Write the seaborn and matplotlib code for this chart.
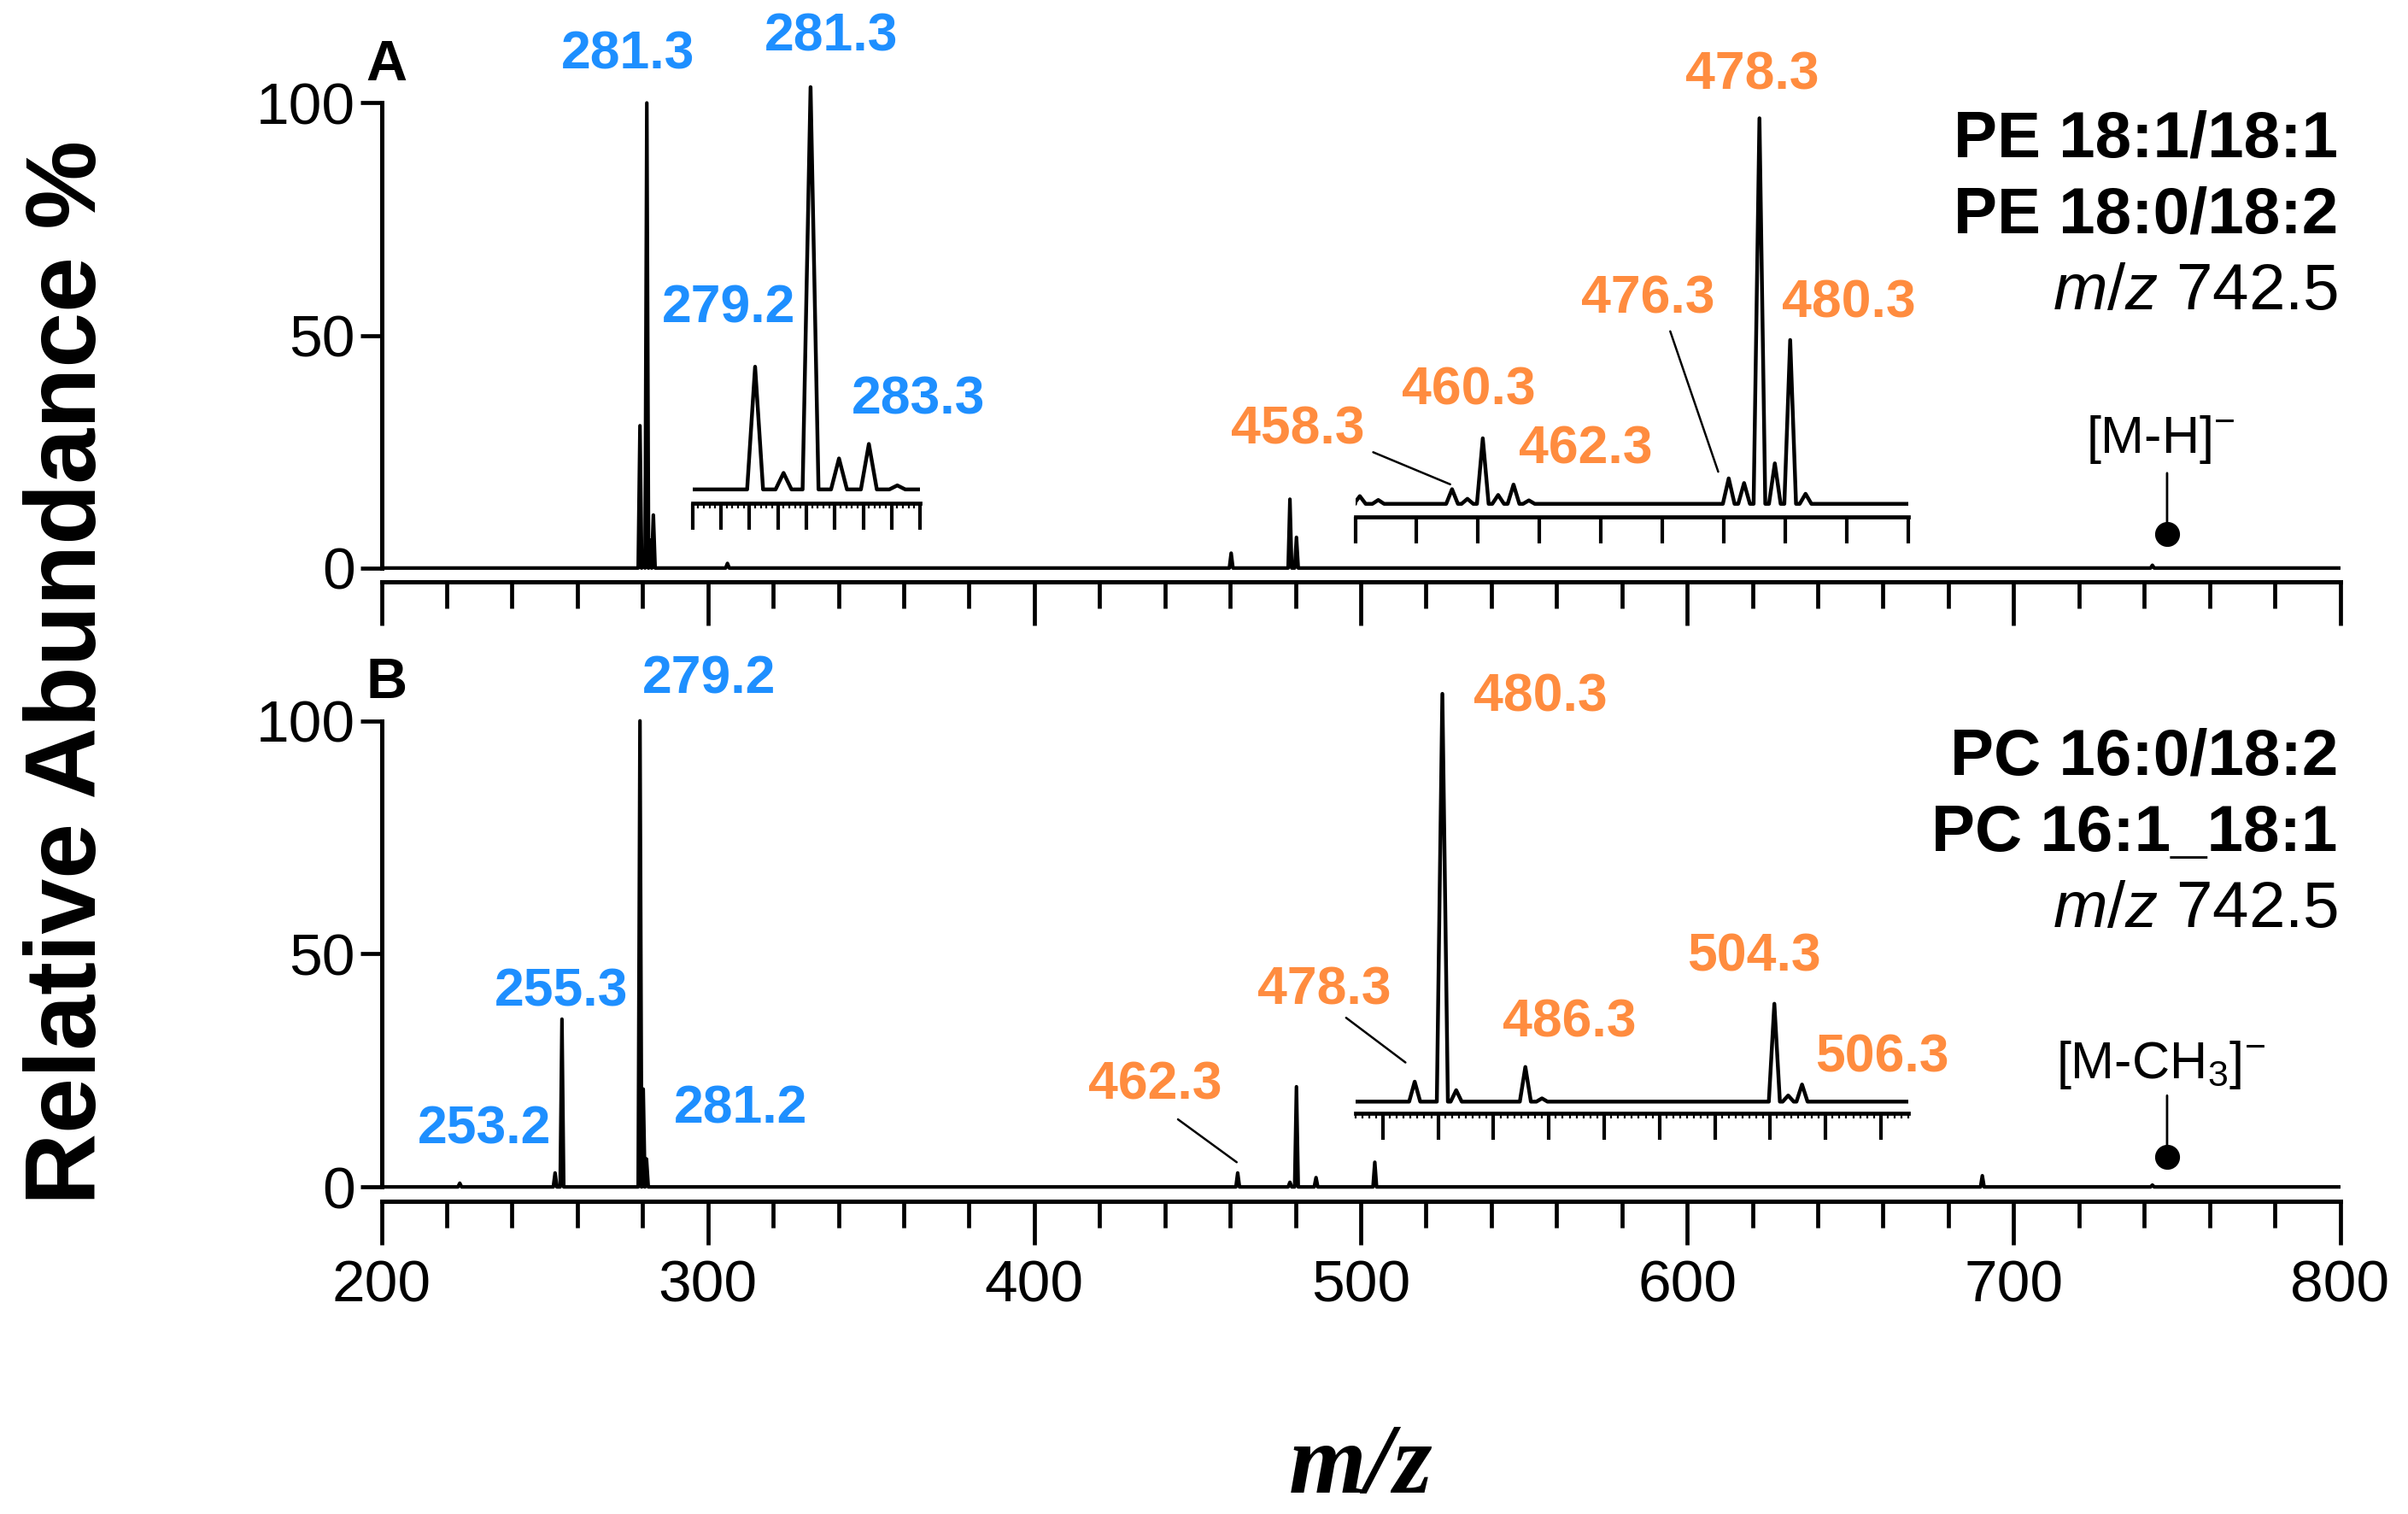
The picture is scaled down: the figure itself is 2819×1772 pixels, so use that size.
import matplotlib
matplotlib.use("Agg")
import matplotlib.pyplot as plt
import seaborn as sns
import pandas as pd
from matplotlib.ticker import MultipleLocator

# main spectra (m/z, relative abundance %)
a_mz = [279.2, 280.2, 281.3, 282.3, 283.3, 306.0, 460.3, 478.3, 480.3, 742.5]
a_ab = [30.6, 3.0, 100.0, 6.0, 11.4, 1.0, 3.2, 14.8, 6.6, 0.6]
b_mz = [224.0, 253.2, 255.3, 279.2, 280.2, 281.2, 462.3, 478.3, 480.3, 486.3, 504.3, 690.4, 742.5]
b_ab = [0.8, 3.0, 36.0, 100.0, 21.0, 6.0, 3.0, 1.0, 21.5, 2.0, 5.3, 2.4, 0.4]

# zoomed insets (relative to the largest peak in each window)
a1_mz = [279.2, 280.2, 281.15, 282.15, 283.2, 284.2]
a1_ab = [30.5, 4.1, 100.0, 7.7, 11.3, 1.0]
a2_mz = [452.3, 453.5, 458.3, 459.3, 460.3, 461.3, 462.3, 463.3, 476.3, 477.3, 478.3, 479.3, 480.3, 481.3]
a2_ab = [2.0, 1.0, 3.8, 1.3, 17.0, 2.3, 5.0, 0.9, 6.6, 5.4, 100.0, 10.5, 42.5, 2.6]
b1_mz = [478.3, 480.3, 481.3, 486.3, 487.5, 504.3, 505.3, 506.3]
b1_ab = [4.9, 100.0, 2.8, 8.5, 0.8, 24.0, 1.5, 4.2]

precursor_mz = 747.0
a_names = ["PE 18:1/18:1", "PE 18:0/18:2"]
b_names = ["PC 16:0/18:2", "PC 16:1_18:1"]

BLUE = "#1E8FFF"
ORANGE = "#FF8C3F"

sns.set_style("ticks")
plt.rcParams["font.family"] = ["Liberation Sans", "DejaVu Sans"]
plt.rcParams["mathtext.fontset"] = "custom"
plt.rcParams["mathtext.rm"] = "Liberation Sans"
plt.rcParams["mathtext.it"] = "Liberation Sans:italic"
for k in ("text.color", "axes.edgecolor", "xtick.color", "ytick.color", "axes.labelcolor"):
    plt.rcParams[k] = "black"


def profile(mz, ab, lo, hi, w):
    """stick list -> line profile with narrow peaks"""
    xs, ys = [lo], [0.0]
    for m, v in sorted(zip(mz, ab)):
        xs += [m - w, m, m + w]
        ys += [0.0, v, 0.0]
    xs.append(hi)
    ys.append(0.0)
    return pd.DataFrame({"mz": xs, "ab": ys})


def main_axes(rect, mz, ab, show_labels):
    ax = fig.add_axes(rect)
    ax.patch.set_alpha(0)
    df = profile(mz, ab, 200, 800, 0.55)
    sns.lineplot(data=df, x="mz", y="ab", sort=False, estimator=None,
                 color="black", lw=3.0, ax=ax)
    ax.set_xlim(200, 800)
    ax.set_ylim(-3.0, 122)
    sns.despine(ax=ax)
    ax.spines["left"].set_bounds(0, 100)
    for s in ("left", "bottom"):
        ax.spines[s].set_linewidth(3.6)
    ax.set_yticks([0, 50, 100])
    ax.xaxis.set_major_locator(MultipleLocator(100))
    ax.xaxis.set_minor_locator(MultipleLocator(20))
    ax.tick_params(axis="y", length=18, width=3.4, pad=4, labelsize=50)
    ax.tick_params(axis="x", which="major", length=37, width=3.4, pad=12, labelsize=50)
    ax.tick_params(axis="x", which="minor", length=22, width=3.4)
    if not show_labels:
        ax.tick_params(axis="x", labelbottom=False)
    ax.set_xlabel("")
    ax.set_ylabel("")
    return ax


def inset(ax, mz, ab, xlim, span, base, axis_y, scale, major, minor, w):
    top = 105
    lo = -(base - axis_y) / scale
    ins = ax.inset_axes([span[0], axis_y, span[1] - span[0], top * scale + (base - axis_y)],
                        transform=ax.transData)
    ins.patch.set_alpha(0)
    df = profile(mz, ab, xlim[0], xlim[1], w)
    sns.lineplot(data=df, x="mz", y="ab", sort=False, estimator=None,
                 color="black", lw=3.2, ax=ins)
    ins.set_xlim(*xlim)
    ins.set_ylim(lo, top)
    for s in ("left", "top", "right"):
        ins.spines[s].set_visible(False)
    ins.spines["bottom"].set_linewidth(3.4)
    ins.set_yticks([])
    ins.xaxis.set_major_locator(MultipleLocator(major))
    if minor:
        ins.xaxis.set_minor_locator(MultipleLocator(minor))
    ins.tick_params(axis="x", which="major", length=22, width=3.0, labelbottom=False)
    ins.tick_params(axis="x", which="minor", length=4, width=1.6)
    ins.set_xlabel("")
    ins.set_ylabel("")
    return ins


fig = plt.figure(figsize=(28.19, 17.72), dpi=100)

axA = main_axes([0.1584, 0.6156, 0.8134, 0.384], a_mz, a_ab, False)
axB = main_axes([0.1584, 0.2068, 0.8134, 0.3848], b_mz, b_ab, True)

inset(axA, a1_mz, a1_ab, (277, 285), (295.3, 365.0), 16.9, 14.0, 0.865, 1, 0.2, 0.28)
inset(axA, a2_mz, a2_ab, (452, 488), (498.3, 667.8), 13.8, 10.9, 0.829, 4, None, 0.38)
inset(axB, b1_mz, b1_ab, (474, 514), (498.3, 667.8), 18.3, 15.8, 0.875, 4, 0.5, 0.4)

lab = dict(fontsize=45, weight="bold", ha="center", va="center")
for txt, x, y in [("281.3", 275.6, 110.3), ("281.3", 337.9, 114.2),
                  ("279.2", 306.5, 55.9), ("283.3", 364.4, 36.2)]:
    axA.text(x, y, txt, color=BLUE, **lab)
for txt, x, y in [("478.3", 620, 106), ("476.3", 588, 57.8), ("480.3", 649.6, 57),
                  ("458.3", 480.6, 29.7), ("460.3", 533, 38.2), ("462.3", 569, 25.5)]:
    axA.text(x, y, txt, color=ORANGE, **lab)
for txt, x, y in [("279.2", 300.4, 109), ("255.3", 255, 41.9),
                  ("253.2", 231.6, 12.4), ("281.2", 310, 16.7)]:
    axB.text(x, y, txt, color=BLUE, **lab)
for txt, x, y in [("462.3", 437, 21.9), ("480.3", 555, 105), ("478.3", 488.9, 42.2),
                  ("486.3", 564, 35.2), ("504.3", 620.6, 49.3), ("506.3", 659.8, 27.8)]:
    axB.text(x, y, txt, color=ORANGE, **lab)

# leader lines
leader = dict(arrowstyle="-", color="black", lw=1.8, shrinkA=0, shrinkB=0)
axA.annotate("", xy=(527.4, 18.0), xytext=(503.8, 24.9), arrowprops=leader)
axA.annotate("", xy=(609.5, 20.7), xytext=(594.8, 50.9), arrowprops=leader)
axB.annotate("", xy=(513.7, 26.7), xytext=(495.5, 36.3), arrowprops=leader)
axB.annotate("", xy=(462.0, 5.3), xytext=(444.0, 14.5), arrowprops=leader)

# panel letters and compound names
for ax, letter, names in [(axA, "A", a_names), (axB, "B", b_names)]:
    ax.text(201.5, 108, letter, fontsize=48, weight="bold", ha="center", va="center")
    ax.text(799.3, 92, names[0], fontsize=55, weight="bold", ha="right", va="center")
    ax.text(799.3, 75.7, names[1], fontsize=55, weight="bold", ha="right", va="center")
    ax.text(799.3, 59.3, r"$\mathit{m/z}$ 742.5", fontsize=55, ha="right", va="center")

# precursor markers
narrow = ["Liberation Sans Narrow", "Liberation Sans", "DejaVu Sans"]
for ax, ion, ydot, ytop, ylab in [(axA, r"[M-H]$^{-}$", 7.4, 20.4, 27.6),
                                  (axB, r"[M-CH$_3$]$^{-}$", 6.4, 19.6, 26.2)]:
    ax.annotate("", xy=(precursor_mz, ydot), xytext=(precursor_mz, ytop),
                arrowprops=dict(arrowstyle="-", color="black", lw=2, shrinkA=0, shrinkB=0))
    ax.plot([precursor_mz], [ydot], "o", color="black", ms=20)
    ax.text(precursor_mz - 2, ylab, ion, fontsize=44, family=narrow,
            ha="center", va="center")

fig.text(0.029, 0.556, "Relative Abundance %", rotation=90, fontsize=84,
         weight="bold", ha="center", va="center")
fig.text(0.565, 0.030, "m/z", fontsize=84, family=["Liberation Serif", "DejaVu Serif"],
         style="italic", weight="bold", ha="center", va="center")

fig.savefig("out.png", dpi=100)
